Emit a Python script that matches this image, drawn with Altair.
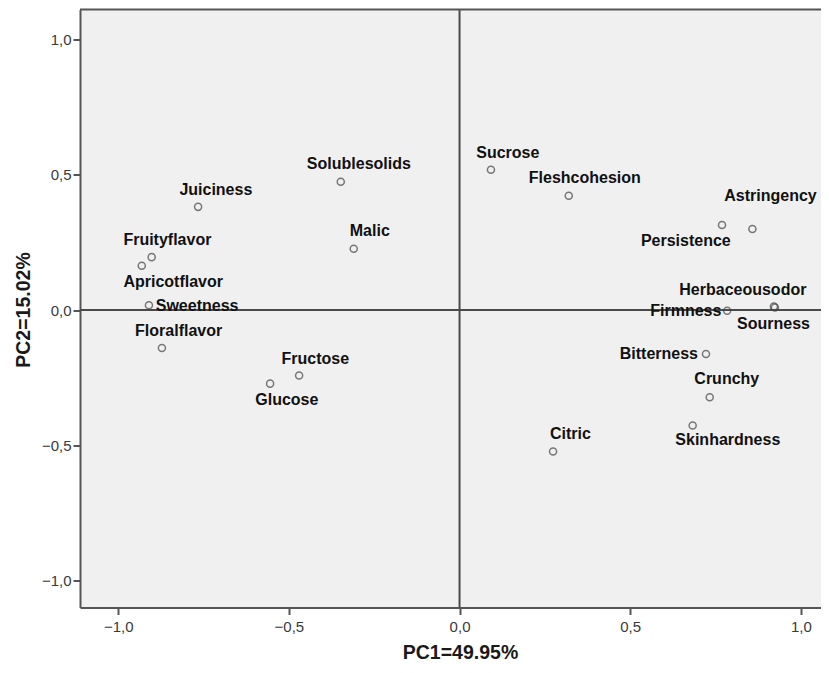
import altair as alt
import pandas as pd

# ---- data ----
names = ["Solublesolids", "Juiciness", "Malic", "Fruityflavor", "Apricotflavor",
         "Sweetness", "Floralflavor", "Fructose", "Glucose", "Sucrose",
         "Fleshcohesion", "Astringency", "Persistence", "Herbaceousodor",
         "Sourness", "Firmness", "Bitterness", "Crunchy", "Skinhardness", "Citric"]
pc1 = [-0.348, -0.766, -0.310, -0.902, -0.931,
       -0.910, -0.872, -0.470, -0.555, 0.092,
       0.320, 0.858, 0.769, 0.921,
       0.924, 0.784, 0.722, 0.733, 0.683, 0.274]
pc2 = [0.475, 0.382, 0.227, 0.196, 0.164,
       0.018, -0.140, -0.242, -0.272, 0.519,
       0.423, 0.300, 0.315, 0.013,
       0.010, -0.002, -0.162, -0.322, -0.427, -0.523]
# label anchor (centre of each label) in PC units, as placed in the reference
label_x = [-0.295, -0.714, -0.263, -0.856, -0.839,
           -0.769, -0.823, -0.4225, -0.506, 0.1415,
           0.367, 0.911, 0.663, 0.830,
           0.920, 0.663, 0.584, 0.783, 0.786, 0.325]
label_y = [0.542, 0.445, 0.294, 0.261, 0.104,
           0.014, -0.078, -0.179, -0.331, 0.582,
           0.490, 0.421, 0.257, 0.076,
           -0.050, -0.002, -0.161, -0.253, -0.482, -0.457]
tick_values = [-1.0, -0.5, 0.0, 0.5, 1.0]
x_title = "PC1=49.95%"
y_title = "PC2=15.02%"

df = pd.DataFrame({"name": names, "pc1": pc1, "pc2": pc2,
                   "lx": label_x, "ly": label_y})

W, H = 741, 598
FONT = "Liberation Sans"
xs = alt.Scale(domain=[-1.112, 1.059], nice=False, zero=False)
ys = alt.Scale(domain=[-1.100, 1.112], nice=False, zero=False)
label_expr = "replace(format(datum.value, '.1f'), '.', ',')"
common = dict(values=tick_values, labelExpr=label_expr, labelFont=FONT,
              labelFontSize=15, labelColor="#3a3a3a", tickColor="#555555",
              tickWidth=2, tickSize=7, domainColor="#555555", domainWidth=2,
              grid=False, titleFont=FONT, titleFontSize=19.5,
              titleFontWeight="bold", titleColor="#1a1a1a")
xaxis = alt.Axis(title=x_title, labelPadding=5, titleX=380, titleY=45,
                 titleBaseline="middle", titleAlign="center", **common)
yaxis = alt.Axis(title=y_title, labelPadding=2, titleX=-57, titleY=300,
                 titleBaseline="middle", titleAlign="center", titleAngle=-90,
                 **common)

def X(f):
    return alt.X(f"{f}:Q", scale=xs, axis=xaxis)

def Y(f):
    return alt.Y(f"{f}:Q", scale=ys, axis=yaxis)

vline = alt.Chart(pd.DataFrame({"pc1": [0.0]})).mark_rule(
    color="#4a4a4a", strokeWidth=2).encode(x=X("pc1"))
hline = alt.Chart(pd.DataFrame({"pc2": [0.0]})).mark_rule(
    color="#4a4a4a", strokeWidth=2).encode(y=Y("pc2"))
top = alt.Chart(pd.DataFrame({"a": [0]})).mark_rule(
    color="#555555", strokeWidth=2).encode(
    x=alt.value(0), x2=alt.value(W), y=alt.value(0))

points = alt.Chart(df).mark_point(
    shape="circle", filled=False, size=50, stroke="#444444",
    strokeWidth=1.5).encode(x=X("pc1"), y=Y("pc2"))

labels = alt.Chart(df).mark_text(
    font=FONT, fontSize=16, fontWeight="bold", color="#111111",
    align="center", baseline="middle").encode(
    x=X("lx"), y=Y("ly"), text="name:N")

chart = alt.layer(vline, hline, top, points, labels).properties(
    width=W, height=H,
    autosize=alt.AutoSizeParams(type="none"),
    padding={"left": 72, "top": 1.5, "right": 0, "bottom": 57.5},
    background="white",
).configure_view(fill="#f0f0f0", stroke=None)

chart.save("out.html", embed_options={"renderer": "svg", "actions": False})
